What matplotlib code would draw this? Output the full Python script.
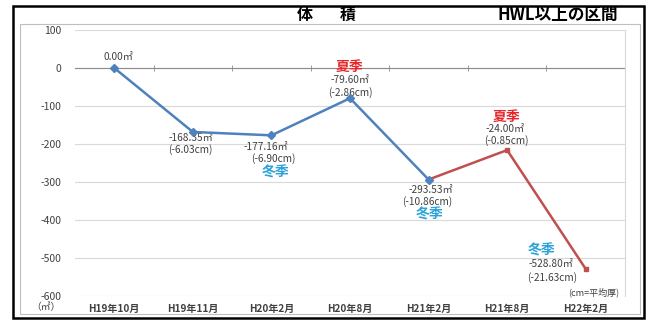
import matplotlib
matplotlib.use("Agg")
import matplotlib.pyplot as plt
from matplotlib.patches import Rectangle

plt.rcParams['font.family'] = ['Noto Sans CJK JP', 'DejaVu Sans']

# data
months = ['H19年10月', 'H19年11月', 'H20年2月', 'H20年8月', 'H21年2月', 'H21年8月', 'H22年2月']
vol_plot = [0.00, -168.35, -177.16, -79.60, -293.53, -216.0, -528.80]
vol_text = ['0.00', '-168.35', '-177.16', '-79.60', '-293.53', '-24.00', '-528.80']
thick_text = [None, '-6.03', '-6.90', '-2.86', '-10.86', '-0.85', '-21.63']
season = [None, None, '冬季', '夏季', '冬季', '夏季', '冬季']
yticks = [100, 0, -100, -200, -300, -400, -500, -600]

blue = '#4F81BD'
red = '#C0504D'
summer_c = '#E8262A'
winter_c = '#2BA3D9'

W, H = 649, 320
fig = plt.figure(figsize=(W / 100, H / 100), dpi=100)

# frames (pixel coords -> figure fractions)
def px_rect(x0, y0, x1, y1, **kw):
    fig.patches.append(Rectangle((x0 / W, 1 - y1 / H), (x1 - x0) / W, (y1 - y0) / H,
                                 transform=fig.transFigure, fill=False, **kw))

px_rect(13, 6, 644, 318, edgecolor='black', linewidth=1.8)
px_rect(20, 24, 640, 314, edgecolor='#BFBFBF', linewidth=0.8)

fig.text(305 / W, 1 - 15 / H, '体', fontsize=11.5, fontweight='bold', ha='center', va='center')
fig.text(348 / W, 1 - 15 / H, '積', fontsize=11.5, fontweight='bold', ha='center', va='center')
fig.text(618 / W, 1 - 15 / H, 'HWL以上の区間', fontsize=12, fontweight='bold', ha='right', va='center')

ax = fig.add_axes([75 / W, 1 - 296 / H, 550 / W, 266 / H])
x = list(range(len(months)))

ax.set_xlim(-0.5, len(months) - 0.5)
ax.set_ylim(-600, 100)
ax.set_yticks(yticks)
ax.set_yticklabels([str(v) for v in yticks], fontsize=7.5, color='#404040')
ax.set_xticks(x)
ax.set_xticklabels(months, fontsize=7.2, fontweight='bold', color='#404040')
ax.tick_params(length=0, pad=6)
ax.tick_params(axis='y', pad=10)
ax.grid(axis='y', color='#D9D9D9', linewidth=0.8)
ax.set_axisbelow(True)
for s in ['left', 'top', 'bottom']:
    ax.spines[s].set_visible(False)
ax.spines['right'].set_color('#D9D9D9')
ax.spines['right'].set_linewidth(0.8)

# category axis crossing at zero with tick marks between categories
ax.axhline(0, color='#8C8C8C', linewidth=0.8, zorder=1)
bounds = [i + 0.5 for i in x[:-1]]
ax.plot(bounds, [0] * len(bounds), linestyle='none', marker='|', markersize=4,
        color='#8C8C8C', markeredgewidth=0.6, zorder=1)

ax.plot(x[4:], vol_plot[4:], color=red, linewidth=1.8, marker='s', markersize=3.5, zorder=3)
ax.plot(x[:5], vol_plot[:5], color=blue, linewidth=1.8, marker='D', markersize=4, zorder=4)

# label offsets in pixels: (volume, thickness, season)
offs = [
    [(4, 11), None, None],
    [(-2, -6), (-3, -18), None],
    [(-6, -12), (2, -23), (4, -37)],
    [(0, 18), (0, 6), (-1, 31)],
    [(2, -10), (-1, -22), (1, -35)],
    [(-2, 21), (-1, 10), (-1, 33)],
    [(-35, 5), (-34, -9), (-44, 18)],
]
for i in x:
    xy = (i, vol_plot[i])
    o = offs[i]
    ax.annotate(vol_text[i] + '㎡', xy, xytext=o[0], textcoords='offset pixels',
                ha='center', va='center', fontsize=7.3, color='#404040')
    if thick_text[i]:
        ax.annotate('(' + thick_text[i] + 'cm)', xy, xytext=o[1], textcoords='offset pixels',
                    ha='center', va='center', fontsize=7.3, color='#404040')
    if season[i]:
        c = summer_c if season[i] == '夏季' else winter_c
        ax.annotate(season[i], xy, xytext=o[2], textcoords='offset pixels',
                    ha='center', va='center', fontsize=10, fontweight='bold', color=c)

ax.text(0.99, 4 / 266, '(cm=平均厚)', transform=ax.transAxes, ha='right', va='center',
        fontsize=6.5, color='#404040')
fig.text(46 / W, 1 - 307 / H, '（㎡）', fontsize=7, ha='center', va='center', color='#404040')

fig.savefig('out.png', dpi=100)
